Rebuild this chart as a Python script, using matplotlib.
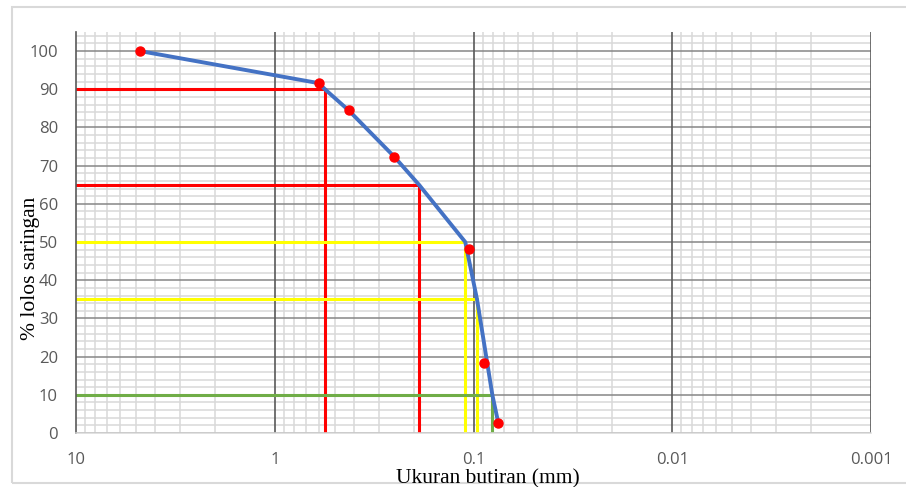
import numpy as np
import matplotlib.pyplot as plt
from matplotlib.ticker import FixedLocator, LogLocator, NullFormatter
from matplotlib.patches import Rectangle

# sieve / hydrometer points (red dots)
size_mm = [4.75, 0.6, 0.425, 0.25, 0.105, 0.089, 0.075]
pct_pass = [100, 91.6, 84.5, 72.3, 48.2, 18.3, 2.6]

# gradation curve vertices (blue line)
curve_mm = [4.75, 0.6, 0.559, 0.425, 0.25, 0.188, 0.110, 0.096, 0.0804, 0.075]
curve_pct = [100, 91.6, 90, 84.5, 72.3, 65, 50, 35, 10, 2.6]

# D-values
d_pct = [90, 65, 50, 35, 10]
d_mm = [0.559, 0.188, 0.110, 0.096, 0.0804]
d_colors = ['#FF0000', '#FF0000', '#FFFF00', '#FFFF00', '#70AD47']

xticks = [10, 1, 0.1, 0.01, 0.001]
xtick_labels = ['10', '1', '0.1', '0.01', '0.001']
yticks = list(range(0, 101, 10))

fig = plt.figure(figsize=(9.06, 4.87), dpi=100)
ax = fig.add_axes([76 / 906, 54 / 487, 795 / 906, 401 / 487])

fig.patches.append(Rectangle((12 / 906, 4 / 487), 900 / 906, 476 / 487,
                             transform=fig.transFigure, fill=False,
                             edgecolor='#d9d9d9', linewidth=1.5))

ax.set_xscale('log')
ax.set_xlim(10, 0.001)
ax.set_ylim(0, 105)

ax.xaxis.set_major_locator(FixedLocator(xticks))
ax.set_xticks(xticks, xtick_labels)
ax.xaxis.set_minor_locator(LogLocator(base=10, subs=np.arange(2, 10), numticks=20))
ax.xaxis.set_minor_formatter(NullFormatter())
ax.set_yticks(yticks)
ax.yaxis.set_minor_locator(FixedLocator(np.arange(0, 105, 2)))

ax.grid(which='minor', axis='both', color='#d9d9d9', linewidth=1.1)
ax.grid(which='major', axis='y', color='#868686', linewidth=1.1)
ax.set_axisbelow(True)
# decade lines drawn above the light minor grid
for xt in xticks[1:]:
    ax.axvline(xt, color='#595959', linewidth=1.2, zorder=1)

for side in ['top', 'right']:
    ax.spines[side].set_visible(False)
ax.spines['left'].set_color('#595959')
ax.spines['left'].set_linewidth(1.2)
ax.spines['bottom'].set_color('#d9d9d9')
ax.spines['bottom'].set_linewidth(1.1)

ax.tick_params(which='both', length=0)
ax.tick_params(axis='y', pad=13, labelsize=12, labelcolor='#595959')
ax.tick_params(axis='x', pad=14, labelsize=12, labelcolor='#595959')
for lab in ax.get_xticklabels() + ax.get_yticklabels():
    lab.set_fontfamily('Open Sans')

for p, d, c in zip(d_pct, d_mm, d_colors):
    ax.plot([10, d, d], [p, p, 0], color=c, linewidth=2.2, zorder=2,
            solid_joinstyle='miter')

ax.plot(curve_mm, curve_pct, color='#4472C4', linewidth=2.8, zorder=3)
ax.plot(size_mm, pct_pass, 'o', color='#FF0000', markersize=6.5, zorder=4)

fig.text(488 / 906, 1 - 478.5 / 487, 'Ukuran butiran (mm)', family='Liberation Serif',
         fontsize=15.5, ha='center', va='center')
fig.text(31 / 906, 1 - 268 / 487, '% lolos saringan', family='Liberation Serif',
         fontsize=15.5, ha='center', va='center', rotation=90)

fig.savefig('out.png', dpi=100)
